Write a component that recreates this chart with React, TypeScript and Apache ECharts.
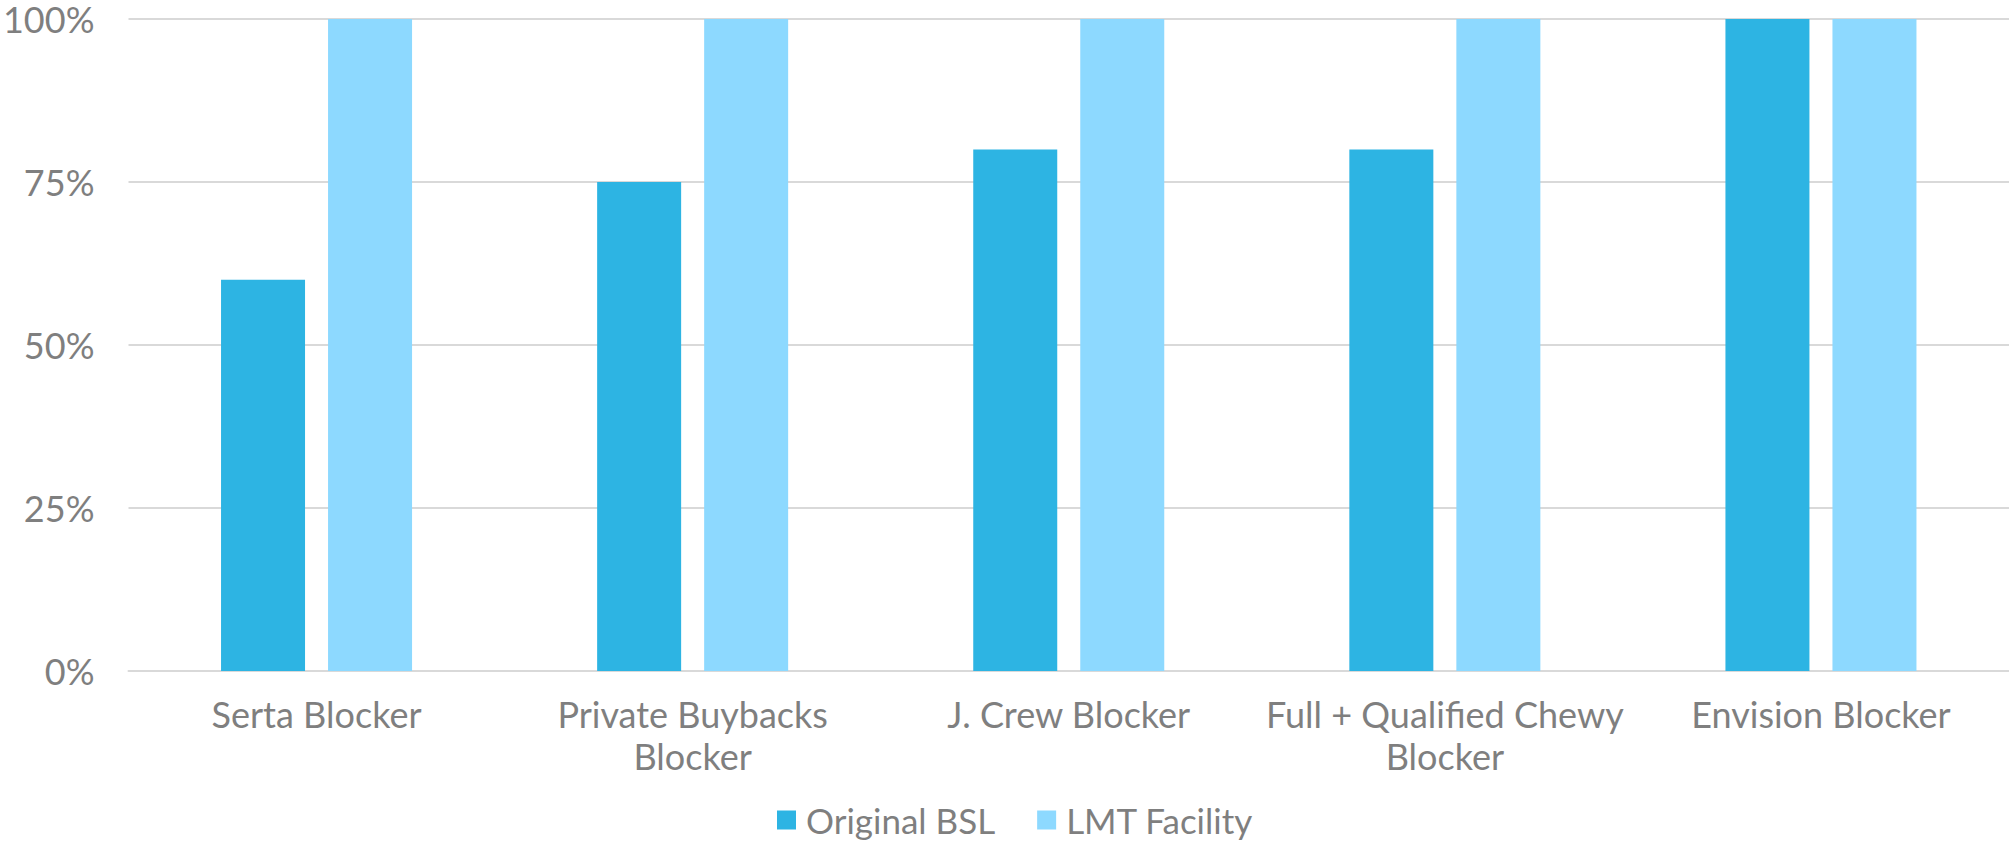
import React, { useEffect, useRef } from "react";
import * as echarts from "echarts";

const categories = [
  "Serta Blocker",
  "Private Buybacks\nBlocker",
  "J. Crew Blocker",
  "Full + Qualified Chewy\nBlocker",
  "Envision Blocker",
];
const originalBSL = [60, 75, 80, 80, 100];
const lmtFacility = [100, 100, 100, 100, 100];
const yTicks = { min: 0, max: 100, interval: 25 };

const textColor = "#7f7f7f";
const font = "Lato";

export default function App() {
  const ref = useRef<HTMLDivElement>(null);
  useEffect(() => {
    document.body.style.margin = "0";
    const chart = echarts.init(ref.current!, null, { renderer: "svg" });
    chart.setOption({
      animation: false,
      grid: { left: 124, right: 0, top: 19, bottom: 171, containLabel: false },
      legend: {
        data: ["Original BSL", "LMT Facility"],
        top: 802,
        left: 777,
        padding: 0,
        icon: "rect",
        itemWidth: 19,
        itemHeight: 19,
        itemGap: 42,
        textStyle: { color: textColor, fontFamily: font, fontSize: 35, lineHeight: 36, padding: [0, 0, 0, 5] },
      },
      xAxis: {
        type: "category",
        data: categories,
        axisLine: { lineStyle: { color: "#d9d9d9", width: 2 } },
        axisTick: { show: false },
        axisLabel: {
          color: textColor,
          fontFamily: font,
          fontSize: 36,
          lineHeight: 42,
          margin: 22,
          interval: 0,
        },
      },
      yAxis: {
        type: "value",
        min: yTicks.min,
        max: yTicks.max,
        interval: yTicks.interval,
        axisLine: { show: false },
        axisTick: { show: false },
        splitLine: { lineStyle: { color: "#d9d9d9", width: 2 } },
        axisLabel: {
          formatter: "{value}%",
          color: textColor,
          fontFamily: font,
          fontSize: 36,
          lineHeight: 34,
          margin: 34,
        },
      },
      series: [
        {
          name: "Original BSL",
          type: "bar",
          data: originalBSL,
          barWidth: 84,
          barGap: "27.4%",
          itemStyle: { color: "#2db4e3" },
        },
        {
          name: "LMT Facility",
          type: "bar",
          data: lmtFacility,
          barWidth: 84,
          barGap: "27.4%",
          itemStyle: { color: "#8dd9ff" },
        },
      ],
    });
    return () => chart.dispose();
  }, []);
  return (
    <div
      ref={ref}
      style={{ position: "absolute", left: 0, top: 0, width: 2009, height: 842 }}
    />
  );
}
